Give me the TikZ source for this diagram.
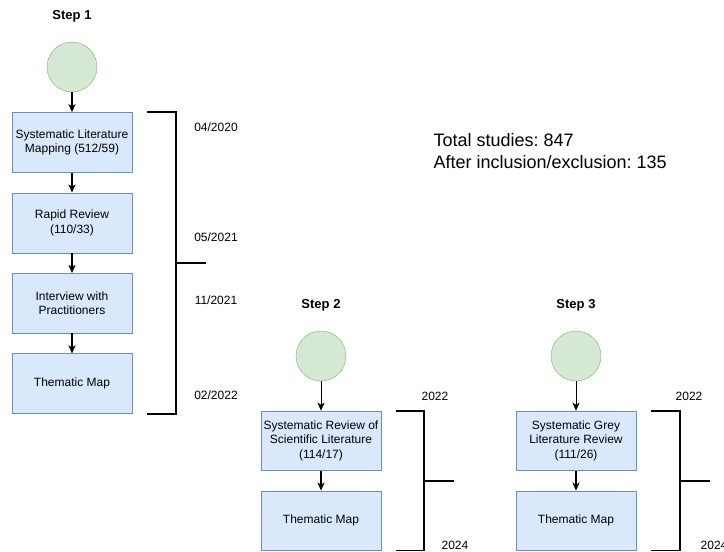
\documentclass[tikz,border=0pt]{standalone}
\usepackage{fontspec}
\setmainfont{Liberation Sans}
\usepackage{tikz}
\usetikzlibrary{arrows.meta,positioning,calc}
\definecolor{boxbg}{RGB}{218,232,252}
\definecolor{boxline}{RGB}{108,142,191}
\definecolor{startbg}{RGB}{213,232,212}
\definecolor{startline}{RGB}{130,179,102}
\frenchspacing
\tikzset{
  stepbox/.style={
    draw=boxline,
    fill=boxbg,
    align=center,
    inner sep=2pt,
    minimum width=120pt,
    minimum height=60pt,
    font=\fontsize{12}{14.5}\selectfont
  },
  start/.style={
    circle,
    draw=startline,
    fill=startbg,
    minimum size=50pt,
    inner sep=0pt
  },
  title/.style={font=\fontsize{13}{15}\selectfont\bfseries},
  date/.style={font=\fontsize{12}{14}\selectfont},
  arrow/.style={-{Stealth[length=8pt,width=7pt,inset=2pt]}, line width=1.6pt},
  thinarrow/.style={-{Stealth[length=8pt,width=7pt,inset=2pt]}, line width=0.9pt},
  bracket/.style={line width=1.8pt}
}
\begin{document}
\begin{tikzpicture}[x=1pt, y=1pt, node distance=20pt]
  \useasboundingbox (0,0) rectangle (724,-552);

  % step 1
  \node[title] (t1) at (72,-16) {Step 1};
  \node[start] (c1) at (72,-67) {};
  \node[stepbox, below=of c1] (slm) {Systematic Literature\\Mapping (512/59)};
  \node[stepbox, below=of slm] (rr) {Rapid Review\\(110/33)};
  \node[stepbox, below=of rr] (iwp) {Interview with\\Practitioners};
  \node[stepbox, below=of iwp] (tm1) {Thematic Map};

  \draw[arrow] (c1) -- (slm);
  \draw[arrow] (slm) -- (rr);
  \draw[arrow] (rr) -- (iwp);
  \draw[arrow] (iwp) -- (tm1);

  \coordinate (b1a) at ($(slm.north east)+(15,0)$);
  \coordinate (b1b) at ($(slm.north east)+(44,0)$);
  \coordinate (b1c) at ($(tm1.south east)+(44,0)$);
  \coordinate (b1d) at ($(tm1.south east)+(15,0)$);
  \coordinate (b1m) at ($(b1b)!0.5!(b1c)$);
  \coordinate (b1t) at ($(b1m)+(30,0)$);
  \draw[bracket] (b1a) -- (b1b) -- (b1c) -- (b1d);
  \draw[bracket] (b1m) -- (b1t);

  \node[date] (d1) at (216,-127) {04/2020};
  \node[date] (d2) at (216,-237) {05/2021};
  \node[date] (d3) at (216,-300) {11/2021};
  \node[date] (d4) at (216,-395) {02/2022};

  % total
  \node[anchor=west, align=left, font=\fontsize{18}{22}\selectfont] (total) at (430,-151)
    {Total studies: 847\\After inclusion/exclusion: 135};

  % step 2
  \node[title] (t2) at (321,-305) {Step 2};
  \node[start] (c2) at (321,-356) {};
  \node[stepbox, below=29.5pt of c2, minimum height=59.5pt] (srsl) {Systematic Review of\\Scientific Literature\\(114/17)};
  \node[stepbox, below=of srsl, minimum height=59.5pt] (tm2) {Thematic Map};

  \draw[thinarrow] (c2) -- (srsl);
  \draw[arrow] (srsl) -- (tm2);

  \coordinate (b2a) at ($(srsl.north east)+(15,0)$);
  \coordinate (b2b) at ($(srsl.north east)+(43,0)$);
  \coordinate (b2c) at ($(tm2.south east)+(43,0)$);
  \coordinate (b2d) at ($(tm2.south east)+(15,0)$);
  \coordinate (b2m) at ($(b2b)!0.5!(b2c)$);
  \coordinate (b2t) at ($(b2m)+(30,0)$);
  \draw[bracket] (b2a) -- (b2b) -- (b2c) -- (b2d);
  \draw[bracket] (b2m) -- (b2t);

  \node[date] (d5) at (435,-396) {2022};
  \node[date] (d6) at (455,-545) {2024};

  % step 3
  \node[title] (t3) at (576,-305) {Step 3};
  \node[start] (c3) at (576,-356) {};
  \node[stepbox, below=29.5pt of c3, minimum height=59.5pt] (sglr) {Systematic Grey\\Literature Review\\(111/26)};
  \node[stepbox, below=of sglr, minimum height=59.5pt] (tm3) {Thematic Map};

  \draw[thinarrow] (c3) -- (sglr);
  \draw[arrow] (sglr) -- (tm3);

  \coordinate (b3a) at ($(sglr.north east)+(15,0)$);
  \coordinate (b3b) at ($(sglr.north east)+(44,0)$);
  \coordinate (b3c) at ($(tm3.south east)+(44,0)$);
  \coordinate (b3d) at ($(tm3.south east)+(15,0)$);
  \coordinate (b3m) at ($(b3b)!0.5!(b3c)$);
  \coordinate (b3t) at ($(b3m)+(30,0)$);
  \draw[bracket] (b3a) -- (b3b) -- (b3c) -- (b3d);
  \draw[bracket] (b3m) -- (b3t);

  \node[date] (d7) at (689,-396) {2022};
  \node[date] (d8) at (714,-545) {2024};
\end{tikzpicture}
\end{document}
